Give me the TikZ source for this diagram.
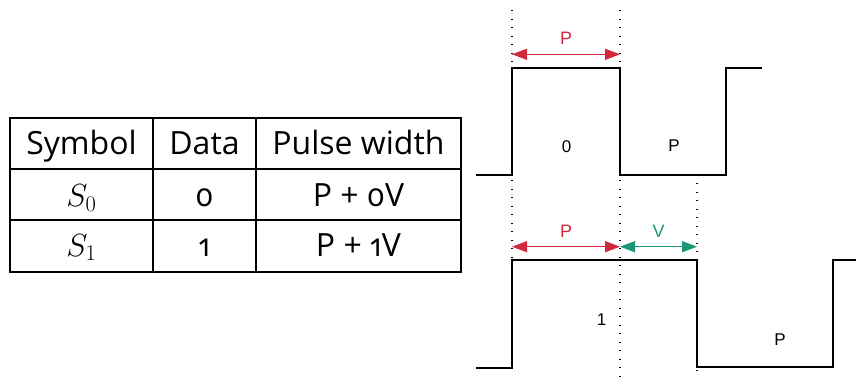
\RequirePackage{fix-cm}
\documentclass[tikz,border=0pt]{standalone}
\usepackage{fontspec}
\setmainfont{Open Sans}[Numbers=OldStyle]
\newfontfamily\wavefont{Liberation Sans}
\usetikzlibrary{arrows.meta}

\definecolor{pulsered}{RGB}{208,40,60}
\definecolor{gapgreen}{RGB}{24,150,120}

\tikzset{
  wave/.style={line width=2pt},
  guide/.style={line width=1.5pt, dash pattern=on 1.2pt off 7.3pt},
  rule/.style={line width=1.2pt},
  cell/.style={anchor=base, inner sep=0pt, font=\fontsize{32}{38}\selectfont},
  measure/.style={line width=1.3pt, {Triangle[length=15pt,width=11pt]}-{Triangle[length=15pt,width=11pt]}},
  wavelabel/.style={inner sep=0pt, font=\wavefont\fontsize{17}{19}\selectfont},
  measurelabel/.style={above=9pt, inner sep=0pt, font=\wavefont\fontsize{18}{20}\selectfont},
}

% (name, baseline, symbol, data, pulse width)
\newcommand{\cellrow}[5]{
    \node[cell] (#1sym) at (81.5,#2) {#3};
    \node[cell] (#1dat) at (204.5,#2) {#4};
    \node[cell] (#1wid) at (358.5,#2) {#5};
}

\begin{document}
\begin{tikzpicture}[x=1pt,y=-1pt]
  \useasboundingbox (0,0) rectangle (856,376);

  % table
  \draw[rule] (10,118) rectangle (461,272);
  \draw[rule] (10,169) -- (461,169);
  \draw[rule] (10,220) -- (461,220);
  \draw[rule] (153,118) -- (153,272);
  \draw[rule] (256,118) -- (256,272);

  \cellrow{head}{154}{Symbol}{Data}{Pulse width}
  \cellrow{zero}{206.5}{$S_0$}{0}{P + 0V}
  \cellrow{one}{256}{$S_1$}{1}{P + 1V}

  % guides
  \draw[guide] (512,10) -- (512,322);
  \draw[guide] (620,10) -- (620,376);
  \draw[guide] (697,183) -- (697,372);

  % waveforms
  \draw[wave] (476,175) -| (512,68.3) -| (620,175) -| (726,68.3) -- (762,68.3);
  \draw[wave] (476,368) -| (512,260) -| (697,367) -| (833,260) -- (856,260);

  \node[wavelabel] (zerobit) at (566.7,146.7) {0};
  \node[wavelabel] (zerogap) at (674,145.7) {P};
  \node[wavelabel] (onebit) at (601.7,320) {1};
  \node[wavelabel] (onegap) at (780,340) {P};

  % measures
  \coordinate (topa) at (512,54.3);
  \coordinate (topb) at (620,54.3);
  \coordinate (bota) at (512,246.7);
  \coordinate (botb) at (620,246.7);
  \coordinate (botc) at (697,246.7);

  \draw[measure, pulsered] (topa) -- node[measurelabel] (toplabel) {P} (topb);
  \draw[measure, pulsered] (bota) -- node[measurelabel] (botlabel) {P} (botb);
  \draw[measure, gapgreen] (botb) -- node[measurelabel] (gaplabel) {V} (botc);

\end{tikzpicture}
\end{document}
